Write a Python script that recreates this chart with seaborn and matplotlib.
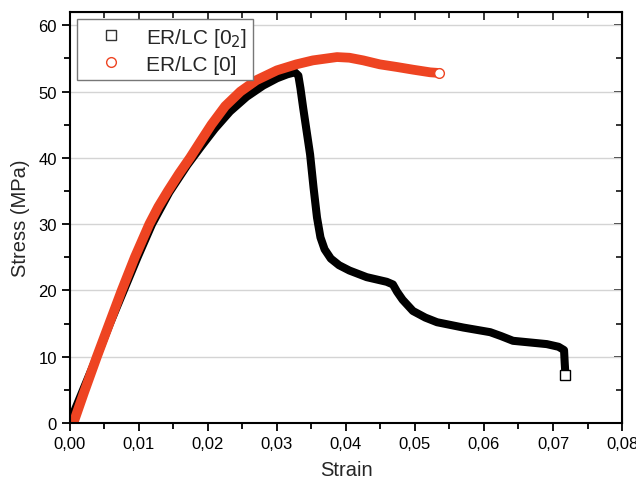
import numpy as np
import pandas as pd
import matplotlib
matplotlib.use("Agg")
import matplotlib.pyplot as plt
import seaborn as sns
from matplotlib.lines import Line2D
from matplotlib.ticker import MultipleLocator, FuncFormatter

# ER/LC [0_2] - black squares
strain_02 = [0.0, 0.0019, 0.0039, 0.0058, 0.0078, 0.0098, 0.0119, 0.0144, 0.0170, 0.0190,
             0.0210, 0.0232, 0.0256, 0.0280, 0.0300, 0.0315, 0.0326, 0.0331, 0.0334, 0.0338,
             0.0343, 0.0348, 0.0353, 0.0358, 0.0363, 0.0369, 0.0378, 0.0390, 0.0405, 0.0430,
             0.0459, 0.0468, 0.0474, 0.0482, 0.0497, 0.0515, 0.0532, 0.0570, 0.0609, 0.0625,
             0.0642, 0.0691, 0.0708, 0.0716, 0.0717, 0.0718]
stress_02 = [0.2, 5.0, 10.0, 15.0, 20.0, 25.0, 30.0, 34.8, 38.9, 41.7,
             44.4, 47.0, 49.2, 50.9, 52.0, 52.6, 52.9, 52.4, 50.5, 47.5,
             44.0, 40.5, 35.5, 31.0, 28.0, 26.2, 24.8, 23.8, 23.0, 22.0,
             21.3, 20.9, 19.8, 18.6, 16.9, 15.9, 15.2, 14.4, 13.7, 13.1,
             12.4, 11.9, 11.5, 11.0, 9.0, 7.3]

# ER/LC [0] - red circles
strain_0 = [0.0005, 0.0020, 0.0039, 0.0057, 0.0075, 0.0094, 0.0115, 0.0128, 0.0142, 0.0158,
            0.0174, 0.0190, 0.0205, 0.0225, 0.0247, 0.0270, 0.0300, 0.0328, 0.0352, 0.0387,
            0.0405, 0.0425, 0.0449, 0.0474, 0.0497, 0.0522, 0.0535]
stress_0 = [0.0, 4.5, 10.0, 15.0, 20.0, 25.0, 30.0, 32.6, 35.0, 37.6,
            40.0, 42.6, 45.0, 47.8, 50.0, 51.7, 53.2, 54.1, 54.7, 55.2,
            55.1, 54.7, 54.1, 53.7, 53.3, 52.9, 52.8]

df02 = pd.DataFrame({"Strain": strain_02, "Stress": stress_02})
df0 = pd.DataFrame({"Strain": strain_0, "Stress": stress_0})

sns.set_style("white")
plt.rcParams['font.family'] = ['Liberation Sans', 'DejaVu Sans']

fig, ax = plt.subplots(figsize=(6.36, 4.81), dpi=100)
fig.subplots_adjust(left=0.110, right=0.978, bottom=0.1185, top=0.973)

ax.yaxis.grid(True, color='#d4d4d4', linewidth=1.0)
ax.set_axisbelow(True)

sns.lineplot(data=df02, x="Strain", y="Stress", ax=ax, color='black', linewidth=5.8,
             sort=False, estimator=None, solid_capstyle='butt', solid_joinstyle='round',
             marker='s', markevery=[-1], markersize=7, markerfacecolor='white',
             markeredgecolor='black', markeredgewidth=1)
sns.lineplot(data=df0, x="Strain", y="Stress", ax=ax, color='#ee4422', linewidth=7,
             sort=False, estimator=None, solid_capstyle='round', solid_joinstyle='round',
             marker='o', markevery=[-1], markersize=7, markerfacecolor='white',
             markeredgecolor='#ee4422', markeredgewidth=1)

ax.set_xlim(0, 0.08)
ax.set_ylim(0, 62)
ax.xaxis.set_major_locator(MultipleLocator(0.01))
ax.xaxis.set_minor_locator(MultipleLocator(0.005))
ax.yaxis.set_major_locator(MultipleLocator(10))
ax.yaxis.set_minor_locator(MultipleLocator(5))
ax.xaxis.set_major_formatter(FuncFormatter(lambda v, p: f"{v:.2f}".replace('.', ',')))

ax.tick_params(which='both', bottom=True, left=True, colors='black')
ax.tick_params(axis='x', which='major', direction='out', length=6, width=1.3, labelsize=12)
ax.tick_params(axis='x', which='minor', direction='out', length=4, width=1.3)
ax.tick_params(axis='y', which='major', direction='out', length=6, width=1.3, labelsize=12)
ax.tick_params(axis='y', which='minor', direction='out', length=4, width=1.3)
for side in ['top', 'right', 'left', 'bottom']:
    ax.spines[side].set_visible(True)
    ax.spines[side].set_color('black')
    ax.spines[side].set_linewidth(1.5)

# inward ticks on top and right
sec_x = ax.secondary_xaxis('top')
sec_x.xaxis.set_major_locator(MultipleLocator(0.01))
sec_x.xaxis.set_minor_locator(MultipleLocator(0.005))
sec_x.tick_params(which='major', direction='in', length=6, width=1.3, labeltop=False)
sec_x.tick_params(which='minor', direction='in', length=4, width=1.3)
sec_y = ax.secondary_yaxis('right')
sec_y.yaxis.set_major_locator(MultipleLocator(10))
sec_y.yaxis.set_minor_locator(MultipleLocator(5))
sec_y.tick_params(which='major', direction='in', length=6, width=1.3, labelright=False)
sec_y.tick_params(which='minor', direction='in', length=4, width=1.3)
ax.tick_params(top=False, right=False, which='both')

ax.set_xlabel("Strain", fontsize=14.5, labelpad=6)
ax.set_ylabel("Stress (MPa)", fontsize=14.5, labelpad=6)

handles = [
    Line2D([], [], linestyle='none', marker='s', markersize=7, markerfacecolor='white',
           markeredgecolor='#333333', markeredgewidth=1),
    Line2D([], [], linestyle='none', marker='o', markersize=7, markerfacecolor='white',
           markeredgecolor='#ee4422', markeredgewidth=1),
]
leg = ax.legend(handles, [r"ER/LC [0$_2$]", "ER/LC [0]"], loc='upper left', fontsize=15,
                frameon=True, fancybox=False, edgecolor='#777777', framealpha=1,
                borderaxespad=0.35, handlelength=2.6, handletextpad=0.4,
                borderpad=0.3, labelspacing=0.3)
leg.get_frame().set_linewidth(1.0)

fig.savefig("out.png", dpi=100)
